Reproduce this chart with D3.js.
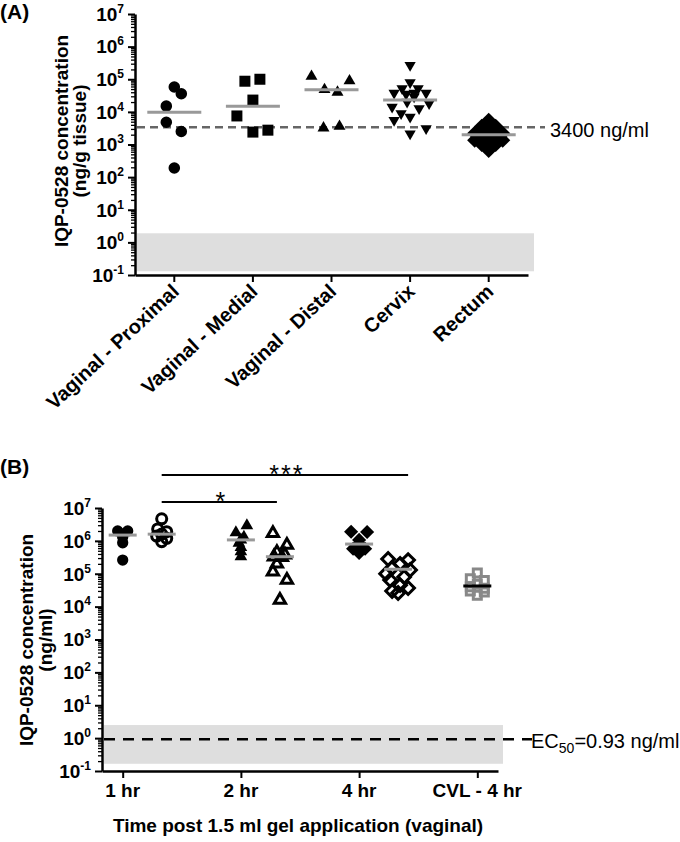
<!DOCTYPE html>
<html><head><meta charset="utf-8">
<script src="https://cdn.jsdelivr.net/npm/d3@7"></script>
<style>
body{margin:0;background:#fff}
svg{display:block}
text{font-family:"Liberation Sans",Arial,sans-serif}
</style>
</head><body>
<svg id="c" width="680" height="842"></svg>
<script>
// ---------------- DATA ----------------
// Panel A : tissue concentrations (ng/g tissue)
const catsA = ["Vaginal - Proximal", "Vaginal - Medial", "Vaginal - Distal", "Cervix", "Rectum"];
const proxVals = [58000, 36000, 15000, 4800, 2500, 190];
const proxJit  = [0, 7, -8, -8, 7, 0];
const medVals  = [87000, 100000, 23000, 7500, 2400, 2750];
const medJit   = [-8, 7, 0, -16, 0, 15];
const distVals = [123000, 48000, 40000, 89000, 3200, 3600];
const distJit  = [-20, -7, 6, 18, -8, 8];
const cervVals = [270000, 79000, 52000, 52000, 38000, 38000, 38000, 35000, 29000, 20000, 18000, 14000, 12600, 8900, 7000, 5500, 3100, 2150];
const cervJit  = [0, 0, 8, -8, -16, 16, 4, -4, 4, -3, 19, -18, 9, -9, 0, -16, 16, 0];
const rectVals = [5500, 3600, 3600, 2500, 2200, 2200, 1800, 1800, 1550, 1350, 1350, 1000, 1000, 660];
const rectJit  = [0, -7, 7, 0, -14, 14, -7, 7, 0, -14, 14, -7, 7, 0];
const mediansA = [9800, 15000, 48000, 23000, 2000];
const refA = 3400;            // ng/ml reference line
const lloqA = [0.13, 1.9];    // shaded region

// Panel B : fluid concentrations (ng/ml)
const catsB = ["1 hr", "2 hr", "4 hr", "CVL - 4 hr"];
const h1Filled = [2.0e6, 2.0e6, 1.6e6, 1.3e6, 8.7e5, 2.6e5];
const h1FilledJit = [-5, 5, 0, 0, 0, 0];
const h1Open = [4.7e6, 2.3e6, 1.9e6, 1.6e6, 1.4e6, 1.2e6, 9.5e5];
const h1OpenJit = [0, -4, 5, 0, -5, 5, 0];
const h2Filled = [2.9e6, 1.8e6, 1.3e6, 1.07e6, 8.5e5, 6.4e5, 4.7e5, 3.3e5];
const h2FilledJit = [6, -5, 3, 0, -2, 0, 0, 0];
const h2Open = [1.7e6, 7.5e5, 4.5e5, 3.8e5, 3.3e5, 3.2e5, 2.0e5, 1.15e5, 6.5e4, 1.6e4];
const h2OpenJit = [-7, 7, -3, 5, -6, 2, -3, -7, 7, 0];
const h4Filled = [1.9e6, 1.86e6, 1.07e6, 8.0e5, 5.75e5, 5.75e5, 4.3e5];
const h4FilledJit = [-8, 8, 0, 0, -6, 6, 0];
const h4Open = [2.8e5, 2.6e5, 2.0e5, 1.5e5, 1.3e5, 1.0e5, 8.0e4, 6.4e4, 4.5e4, 3.7e4, 3.0e4, 2.6e4];
const h4OpenJit = [-10, 10, 2, -6, 12, -12, 6, -8, 2, 10, -6, 0];
const cvlVals = [1.05e5, 7.0e4, 6.2e4, 4.8e4, 4.0e4, 3.6e4, 3.0e4, 2.8e4, 2.2e4];
const cvlJit  = [0, -7, 7, 0, -7, 7, -7, 7, 0];
const mediansB = [1.5e6, 1.6e6, 1.07e6, 3.3e5, 8.0e5, 1.37e5, 4.25e4];
const ec50 = 0.93;
const lloqB = [0.166, 2.5];
const decades = [-1, 0, 1, 2, 3, 4, 5, 6, 7];

// ---------------- DRAW ----------------
const svg = d3.select("#c");
const BOLD = "bold";

function logAxis(y, x0) {
  const minor = [];
  decades.forEach(e => { if (e < 7) for (let k = 2; k <= 9; k++) minor.push(+(k * Math.pow(10, e)).toPrecision(3)); });
  const gm = svg.append("g").attr("transform", `translate(${x0},0)`)
    .call(d3.axisLeft(y).tickValues(minor).tickSize(4).tickSizeOuter(0).tickFormat(""));
  gm.select(".domain").remove();
  gm.selectAll("line").attr("stroke", "#000").attr("stroke-width", 1.3);
  const g = svg.append("g").attr("transform", `translate(${x0},0)`)
    .call(d3.axisLeft(y).tickValues(decades.map(e => Math.pow(10, e))).tickSize(7).tickSizeOuter(0).tickFormat(""));
  g.select(".domain").attr("stroke", "#000").attr("stroke-width", 2.5);
  g.selectAll("line").attr("stroke", "#000").attr("stroke-width", 2);
  decades.forEach(e => {
    const t = svg.append("text").attr("x", x0 - 11).attr("y", y(Math.pow(10, e))).attr("dy", "0.36em")
      .attr("text-anchor", "end").attr("font-size", 19).attr("font-weight", BOLD);
    t.append("tspan").text("10");
    t.append("tspan").attr("dy", -8).attr("font-size", 12).text(String(e));
  });
}

// ---- Panel A ----
const yA = d3.scaleLog().domain([0.1, 1e7]).range([275, 14]);
const xA = d3.scaleBand().domain(catsA).range([135, 528]);
const cA = c => xA(c) + xA.bandwidth() / 2;

svg.append("rect").attr("x", 137).attr("width", 534 - 137)
  .attr("y", yA(lloqA[1])).attr("height", yA(lloqA[0]) - yA(lloqA[1])).attr("fill", "#dedede");

svg.append("line").attr("x1", 137).attr("x2", 545).attr("y1", yA(refA)).attr("y2", yA(refA))
  .attr("stroke", "#666").attr("stroke-width", 2.5).attr("stroke-dasharray", "8,5");
svg.append("text").attr("x", 550).attr("y", yA(refA)).attr("dy", "0.5em").attr("font-size", 20).text("3400 ng/ml");

const seriesA = [
  {cat: catsA[0], vals: proxVals, jit: proxJit, sym: d3.symbolCircle, size: 105, rot: 0},
  {cat: catsA[1], vals: medVals, jit: medJit, sym: d3.symbolSquare, size: 121, rot: 0},
  {cat: catsA[2], vals: distVals, jit: distJit, sym: d3.symbolTriangle, size: 62, rot: 0},
  {cat: catsA[3], vals: cervVals, jit: cervJit, sym: d3.symbolTriangle, size: 55, rot: 180},
  {cat: catsA[4], vals: rectVals, jit: rectJit, sym: d3.symbolSquare, size: 115, rot: 45}
];
seriesA.forEach(s => {
  svg.append("g").selectAll("path").data(s.vals).join("path")
    .attr("d", d3.symbol(s.sym, s.size)())
    .attr("transform", (v, i) => `translate(${cA(s.cat) + s.jit[i]},${yA(v)}) rotate(${s.rot})`)
    .attr("fill", "#000");
});
svg.append("g").selectAll("line").data(mediansA).join("line")
  .attr("x1", (m, i) => cA(catsA[i]) - 27).attr("x2", (m, i) => cA(catsA[i]) + 27)
  .attr("y1", m => yA(m)).attr("y2", m => yA(m))
  .attr("stroke", "#999").attr("stroke-width", 3);

logAxis(yA, 135);
const gxA = svg.append("g").attr("transform", "translate(0,275)")
  .call(d3.axisBottom(xA).tickSize(7).tickSizeOuter(0).tickFormat(""));
gxA.select(".domain").attr("stroke", "#000").attr("stroke-width", 2.5);
gxA.selectAll("line").attr("stroke", "#000").attr("stroke-width", 2);
svg.append("g").selectAll("text").data(catsA).join("text")
  .attr("transform", c => `translate(${cA(c) + 6},${293}) rotate(-43)`)
  .attr("text-anchor", "end").attr("font-size", 20).attr("font-weight", BOLD).text(c => c);

svg.append("text").attr("transform", "translate(68,141) rotate(-90)").attr("text-anchor", "middle")
  .attr("font-size", 19).attr("font-weight", BOLD).text("IQP-0528 concentration");
svg.append("text").attr("transform", "translate(86,141) rotate(-90)").attr("text-anchor", "middle")
  .attr("font-size", 19).attr("font-weight", BOLD).text("(ng/g tissue)");
svg.append("text").attr("x", 0).attr("y", 19).attr("font-size", 21).attr("font-weight", BOLD).text("(A)");

// ---- Panel B ----
const yB = d3.scaleLog().domain([0.1, 1e7]).range([771, 508]);
const xB = d3.scalePoint().domain(catsB).range([102, 498]).padding(0.175);
const off = xB.step() * 0.33;

svg.append("rect").attr("x", 104).attr("width", 503 - 104)
  .attr("y", yB(lloqB[1])).attr("height", yB(lloqB[0]) - yB(lloqB[1])).attr("fill", "#dedede");
svg.append("line").attr("x1", 104).attr("x2", 532).attr("y1", yB(ec50)).attr("y2", yB(ec50))
  .attr("stroke", "#000").attr("stroke-width", 2.5).attr("stroke-dasharray", "11,8");
const ecT = svg.append("text").attr("x", 531).attr("y", yB(ec50)).attr("dy", "0.42em").attr("font-size", 20);
ecT.append("tspan").text("EC");
ecT.append("tspan").attr("dy", 5).attr("font-size", 14).text("50");
ecT.append("tspan").attr("dy", -5).text("=0.93 ng/ml");

const seriesB = [
  {cat: "1 hr", dx: 0, vals: h1Filled, jit: h1FilledJit, sym: d3.symbolCircle, size: 100, rot: 0, fill: "#000", stroke: "none", med: mediansB[0], mc: "#999"},
  {cat: "1 hr", dx: off, vals: h1Open, jit: h1OpenJit, sym: d3.symbolCircle, size: 80, rot: 0, fill: "none", stroke: "#000", med: mediansB[1], mc: "#999"},
  {cat: "2 hr", dx: 0, vals: h2Filled, jit: h2FilledJit, sym: d3.symbolTriangle, size: 70, rot: 0, fill: "#000", stroke: "none", med: mediansB[2], mc: "#999"},
  {cat: "2 hr", dx: off, vals: h2Open, jit: h2OpenJit, sym: d3.symbolTriangle, size: 55, rot: 0, fill: "none", stroke: "#000", med: mediansB[3], mc: "#999"},
  {cat: "4 hr", dx: 0, vals: h4Filled, jit: h4FilledJit, sym: d3.symbolSquare, size: 100, rot: 45, fill: "#000", stroke: "none", med: mediansB[4], mc: "#999"},
  {cat: "4 hr", dx: off, vals: h4Open, jit: h4OpenJit, sym: d3.symbolSquare, size: 80, rot: 45, fill: "none", stroke: "#000", med: mediansB[5], mc: "#999"},
  {cat: "CVL - 4 hr", dx: 0, vals: cvlVals, jit: cvlJit, sym: d3.symbolSquare, size: 64, rot: 0, fill: "none", stroke: "#888", med: mediansB[6], mc: "#000"}
];
seriesB.forEach(s => {
  const cx = xB(s.cat) + s.dx;
  svg.append("g").selectAll("path").data(s.vals).join("path")
    .attr("d", d3.symbol(s.sym, s.size)())
    .attr("transform", (v, i) => `translate(${cx + s.jit[i]},${yB(v)}) rotate(${s.rot})`)
    .attr("fill", s.fill).attr("stroke", s.stroke).attr("stroke-width", 3);
});
seriesB.forEach(s => {
  const cx = xB(s.cat) + s.dx;
  svg.append("line").attr("x1", cx - 14).attr("x2", cx + 14).attr("y1", yB(s.med)).attr("y2", yB(s.med))
    .attr("stroke", s.mc).attr("stroke-width", 3);
});

logAxis(yB, 102);
const gxB = svg.append("g").attr("transform", "translate(0,771)")
  .call(d3.axisBottom(xB).tickSize(7).tickSizeOuter(0).tickFormat(""));
gxB.select(".domain").attr("stroke", "#000").attr("stroke-width", 2.5);
gxB.selectAll("line").attr("stroke", "#000").attr("stroke-width", 2);
svg.append("g").selectAll("text").data(catsB).join("text")
  .attr("x", c => xB(c)).attr("y", 797).attr("text-anchor", "middle")
  .attr("font-size", 19).attr("font-weight", BOLD).text(c => c);

svg.append("text").attr("x", 298).attr("y", 832).attr("text-anchor", "middle")
  .attr("font-size", 19).attr("font-weight", BOLD).text("Time post 1.5 ml gel application (vaginal)");
svg.append("text").attr("transform", "translate(33,640) rotate(-90)").attr("text-anchor", "middle")
  .attr("font-size", 19).attr("font-weight", BOLD).text("IQP-0528 concentration");
svg.append("text").attr("transform", "translate(52,640) rotate(-90)").attr("text-anchor", "middle")
  .attr("font-size", 19).attr("font-weight", BOLD).text("(ng/ml)");
svg.append("text").attr("x", 0).attr("y", 474).attr("font-size", 21).attr("font-weight", BOLD).text("(B)");

// significance bars
const sig = [
  {from: "1 hr", to: "4 hr", ext: 10, y: 475, label: "***"},
  {from: "1 hr", to: "2 hr", ext: -3, y: 502, label: "*"}
];
sig.forEach(s => {
  const x1 = xB(s.from) + off, x2 = xB(s.to) + off + s.ext;
  svg.append("line").attr("x1", x1).attr("x2", x2).attr("y1", s.y).attr("y2", s.y)
    .attr("stroke", "#000").attr("stroke-width", 2);
  svg.append("text").attr("x", (x1 + x2) / 2 + 2).attr("y", s.y + 8).attr("text-anchor", "middle")
    .attr("font-size", 25).attr("letter-spacing", 2).text(s.label);
});
</script>
</body></html>
